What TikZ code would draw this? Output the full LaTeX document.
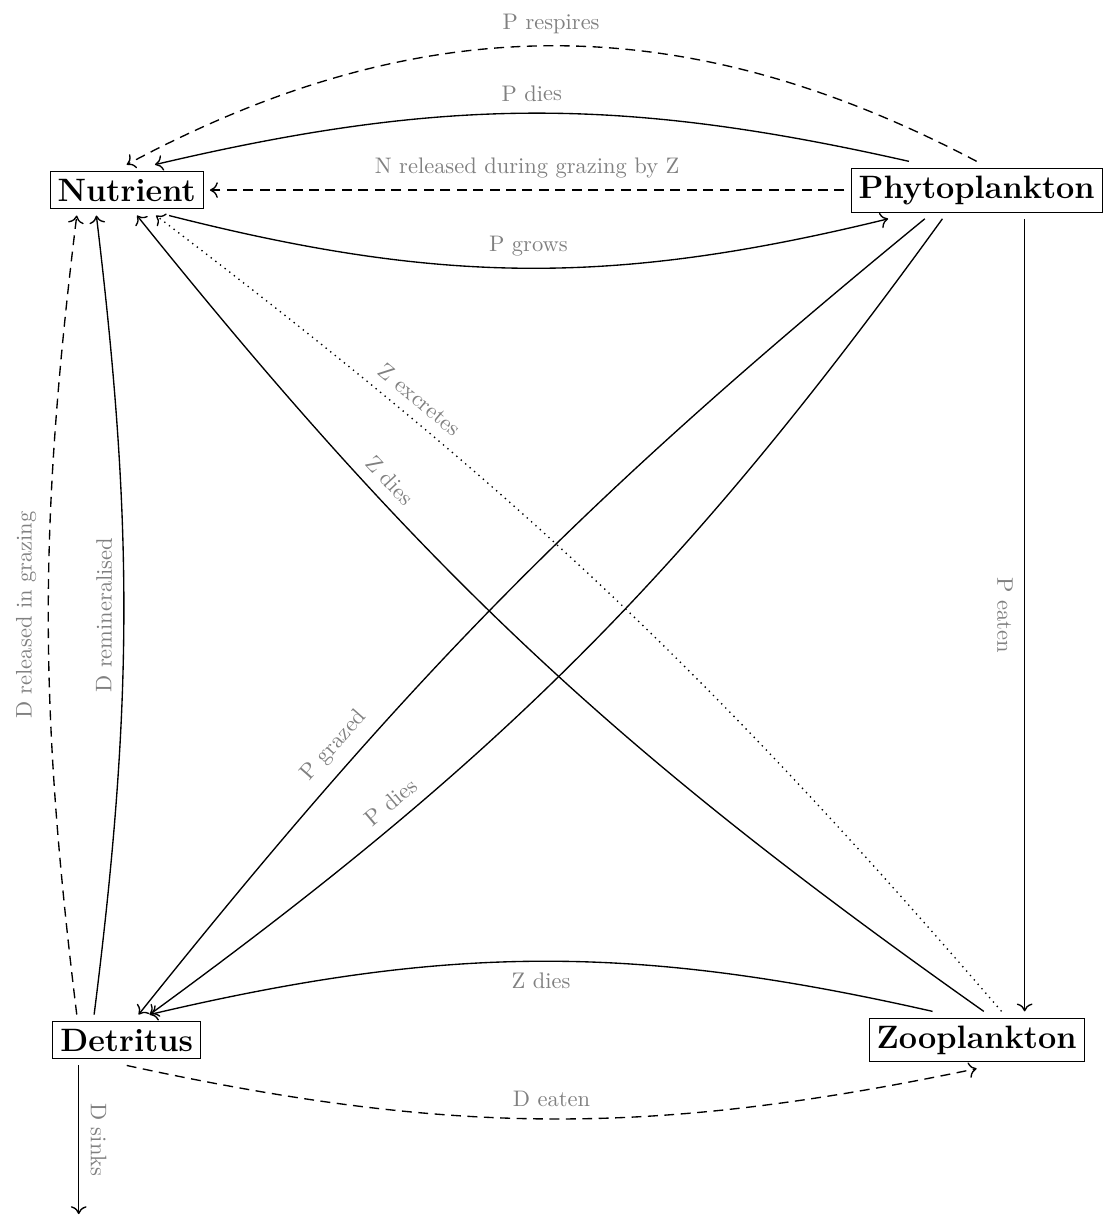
\documentclass[tikz,border=0pt]{standalone}
\usepackage{xcolor}
\usepackage{amsmath}
\usepackage{tikz}
\usetikzlibrary{arrows.meta}

\begin{document}
\begin{tikzpicture}[Box/.style = {rectangle, draw = black, font = \Large\bfseries, outer sep = 3pt}, Label/.style = {font = \normalsize, text = gray, inner sep = 5pt, sloped}, Dash/.style = {dash pattern = on 4.4pt off 2.9pt}, -{To[length = 3.5pt, width = 7pt]}, semithick]
        \useasboundingbox (-1.98,2.97) rectangle (15.24,-16.03);
        \node [Box, thin] (1) at (0,0) {Nutrient};
        \node [Box, thin] (2) at (13.28,0) {Phytoplankton};
        \node [Box, thin] (3) at (0,-13.28) {Detritus};
        \node [Box, thin] (4) at (13.28,-13.28) {Zooplankton};
        \coordinate (5) at (-0.75,-16.0);
        \draw [Dash] (2.north) to [bend right = 28] node [Label, above] {P respires} (1.north);
        \draw (2.157) to [bend right = 13] node [Label, above] {P dies} (1.42);
        \draw [Dash] (2) -- node [Label, above] {N released during grazing by Z} (1);
        \draw (1.-31) to [bend right = 14] node [Label, above] {P grows} (2.-162);
        \draw (2.209) to [bend right = 6] node [Label, above, pos = 0.72] {P grazed} (3.65);
        \draw (2.220) to [bend left = 9] node [Label, above, pos = 0.73] {P dies} (3.48);
        \draw (4.76) to [bend left = 8] node [Label, above, pos = 0.70] {Z dies} (1.-68);
        \draw [dotted] (4.49) to [bend right = 6] node [Label, above, pos = 0.74] {Z excretes} (1.-41);
        \draw ([xshift = 0.75cm]2.south) -- node [Label, below] {P eaten} ([xshift = 0.75cm]4.north);
        \draw (3.142) to [bend right = 7] node [Label, above] {D remineralised} (1.220);
        \draw [Dash] (3.153) to [bend left = 7] node [Label, above] {D released in grazing} (1.207);
        \draw (4.147) to [bend right = 13] node [Label, below] {Z dies} (3.48);
        \draw [Dash] (3.south) to [bend right = 12] node [Label, above] {D eaten} (4.south);
        \draw ([xshift = -0.75cm]3.south) -- node [Label, above] {D sinks} (5);
    \end{tikzpicture}
\end{document}
